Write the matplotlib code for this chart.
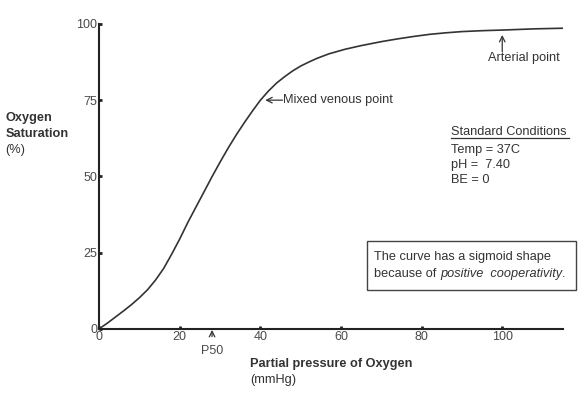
import matplotlib.pyplot as plt
from matplotlib.patches import Rectangle

plt.rcParams['font.family'] = ['Liberation Sans', 'DejaVu Sans']

po2 = [0, 2, 4, 6, 8, 10, 12, 14, 16, 18, 20, 22, 24, 26, 28, 30, 32, 34,
       36, 38, 40, 42, 44, 46, 48, 50, 52, 54, 57, 61, 65, 70, 74, 78, 82,
       86, 90, 95, 100, 108, 115]
sat = [0, 1.8, 3.8, 5.8, 7.9, 10.2, 12.8, 16.0, 19.8, 24.5, 29.5, 34.9,
       39.9, 44.9, 49.9, 54.7, 59.3, 63.6, 67.6, 71.4, 75.0, 78.0, 80.6,
       82.7, 84.6, 86.2, 87.5, 88.7, 90.2, 91.7, 92.9, 94.2, 95.1, 95.9,
       96.6, 97.1, 97.5, 97.8, 98.0, 98.4, 98.6]

x_ticks = [0, 20, 40, 60, 80, 100]
y_ticks = [0, 25, 50, 75, 100]

venous = (41.2, 75)
arterial = (100, 96.4)
p50 = 28

grey = '#333333'
tick_grey = '#4a4a4a'
fs = 9.2

fig = plt.figure(figsize=(5.87, 3.93), dpi=100)
ax = fig.add_axes([0.169, 0.1636, 0.7896, 0.7754])

ax.plot(po2, sat, color=grey, lw=1.2)

ax.set_xlim(0, 115)
ax.set_ylim(0, 100)
ax.spines['top'].set_visible(False)
ax.spines['right'].set_visible(False)
for s in ['left', 'bottom']:
    ax.spines[s].set_linewidth(1.5)
    ax.spines[s].set_color('#222222')
ax.set_xticks(x_ticks)
ax.set_yticks(y_ticks)
ax.tick_params(direction='in', length=2.5, width=2, colors='#222222',
               labelcolor=tick_grey, labelsize=9, pad=1.5)

# titres des axes
fig.text(0.009, 0.6997, 'Oxygen', fontsize=fs, fontweight='bold',
         color=grey, va='center')
fig.text(0.009, 0.659, 'Saturation', fontsize=fs, fontweight='bold',
         color=grey, va='center')
fig.text(0.009, 0.618, '(%)', fontsize=fs, color=grey, va='center')
fig.text(0.426, 0.074, 'Partial pressure of Oxygen', fontsize=fs,
         fontweight='bold', color=grey, va='center')
fig.text(0.426, 0.033, '(mmHg)', fontsize=fs, color=grey, va='center')

# annotations
ax.annotate('', xy=venous, xytext=(45.5, 75),
            arrowprops=dict(arrowstyle='->', color=grey, lw=0.9,
                            shrinkA=0, shrinkB=0))
ax.text(45.6, 75, 'Mixed venous point', fontsize=fs, color=grey,
        va='center', ha='left')
ax.annotate('', xy=arterial, xytext=(100, 90.9),
            arrowprops=dict(arrowstyle='->', color=grey, lw=0.9,
                            shrinkA=0, shrinkB=0))
ax.text(105.3, 88.7, 'Arterial point', fontsize=fs, color=grey,
        va='center', ha='center')
ax.annotate('', xy=(p50, -0.4), xytext=(p50, -2.6), annotation_clip=False,
            arrowprops=dict(arrowstyle='->', color=grey, lw=0.9,
                            shrinkA=0, shrinkB=0))
ax.text(p50, -7.2, 'P50', fontsize=9, color=tick_grey, va='center',
        ha='center', clip_on=False)

# conditions standard
ax.text(87.3, 64.5, 'Standard Conditions', fontsize=fs, color=grey,
        va='center')
ax.plot([87.3, 116.5], [62.6, 62.6], color=grey, lw=0.9, clip_on=False)
for yy, line in zip([58.6, 53.7, 48.8], ['Temp = 37C', 'pH =  7.40', 'BE = 0']):
    ax.text(87.3, yy, line, fontsize=fs, color=grey, va='center')

# encadré
ax.add_patch(Rectangle((66.5, 12.6), 51.9, 16.1, fill=False, lw=1,
                       edgecolor='#444444', clip_on=False))
ax.text(68.2, 23.5, 'The curve has a sigmoid shape', fontsize=fs,
        color=grey, va='center')
t = ax.text(68.2, 18.1, 'because of ', fontsize=fs, color=grey, va='center')
fig.canvas.draw()
bb = t.get_window_extent().transformed(ax.transData.inverted())
t2 = ax.text(bb.x1, 18.1, 'positive  cooperativity', fontsize=fs,
             color=grey, va='center', style='italic')
fig.canvas.draw()
bb2 = t2.get_window_extent().transformed(ax.transData.inverted())
ax.text(bb2.x1, 18.1, '.', fontsize=fs, color=grey, va='center')

fig.savefig('out.png', dpi=100)
